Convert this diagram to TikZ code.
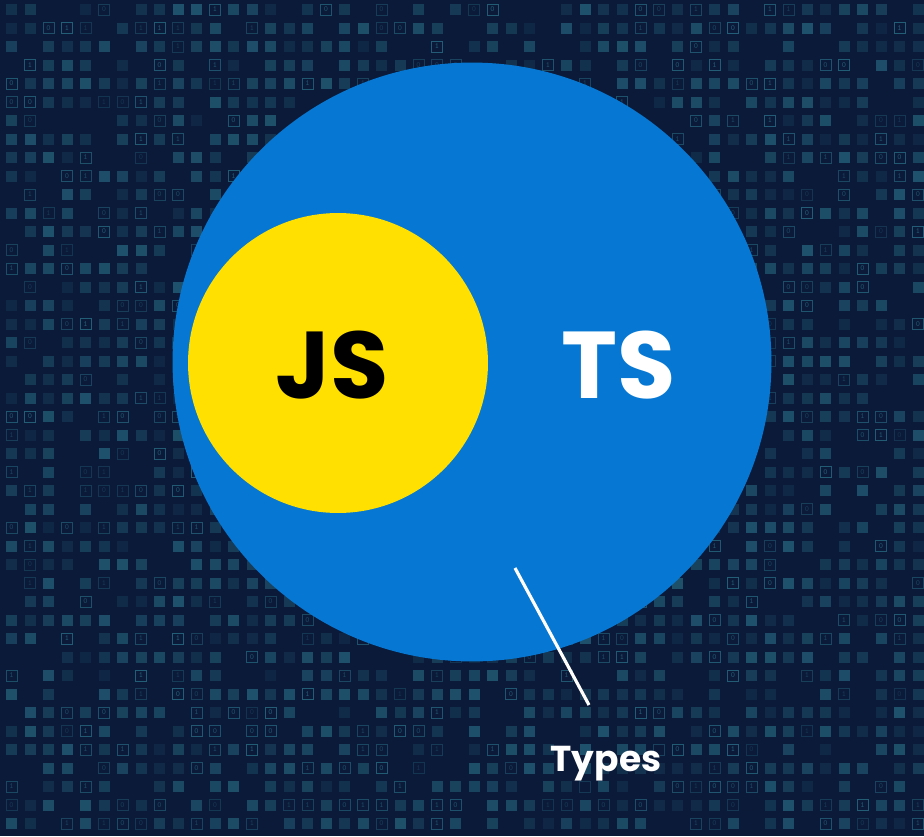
\documentclass[tikz,border=0pt]{standalone}
\usepackage{fontspec}
\newfontfamily\poppins{Poppins}
\usetikzlibrary{positioning}
\definecolor{navy}{HTML}{0A1A38}
\definecolor{cell}{HTML}{2A7088}
\definecolor{tsblue}{HTML}{0678D3}
\definecolor{jsyellow}{HTML}{FFE000}

\begin{document}
\begin{tikzpicture}[
    x=0.02cm, y=-0.02cm,
    bigcircle/.style={circle, fill=tsblue, minimum size=11.98cm, inner sep=0pt},
    smallcircle/.style={circle, fill=jsyellow, minimum size=6cm, inner sep=0pt},
    biglabel/.style={font=\poppins\bfseries\fontsize{54}{54}\selectfont, anchor=base, inner sep=0pt},
    smalllabel/.style={font=\poppins\bfseries\fontsize{20.5}{20.5}\selectfont, text=white, anchor=base, inner sep=0pt},
    digit/.style={font=\ttfamily\fontsize{4.5}{4.5}\selectfont, text=cell, inner sep=0pt},
    pointer/.style={white, line width=1.8pt}
  ]
    \fill[navy] (0,0) rectangle (924,836);
    \useasboundingbox (0,0) rectangle (924,836);
    % binary grid in the background
    \pgfmathsetseed{42}
    \foreach \i in {0,...,49}{
      \foreach \j in {0,...,44}{
        \pgfmathsetmacro{\op}{0.15+0.5*rnd}
        \pgfmathrandominteger{\kind}{0}{9}
        \pgfmathtruncatemacro{\inside}{veclen(11.5+18.5*\i-472,9.5+18.5*\j-362)<290}
        \pgfmathtruncatemacro{\nearlabel}{and(abs(11.5+18.5*\i-606)<70,abs(9.5+18.5*\j-760)<30)}
        \ifnum\inside=0
        \ifnum\kind<6
          \fill[cell, opacity=\op] (6+18.5*\i,4+18.5*\j) rectangle ++(11,11);
        \else\ifnum\kind<8
          \pgfmathrandominteger{\bit}{0}{1}
          \draw[cell, opacity=\op+0.15, line width=0.4pt] (6+18.5*\i,4+18.5*\j) rectangle ++(11,11);
          \ifnum\nearlabel=0
            \node[digit, opacity=\op+0.15] at (11.5+18.5*\i,9.5+18.5*\j) {\bit};
          \fi
        \fi\fi
        \fi
      }
    }
    \node[bigcircle] (ts) at (472,362) {};
    \node[smallcircle] (js) at (338,363) {};
    \node[biglabel, text=black] (jstext) at (332,398) {JS};
    \node[biglabel, text=white] (tstext) at (619,398) {TS};
    \coordinate (tick) at (515,568);
    \coordinate (tip) at (589,705);
    \draw[pointer] (tick) -- (tip);
    \node[smalllabel] (types) at (606,771) {Types};
\end{tikzpicture}
\end{document}
